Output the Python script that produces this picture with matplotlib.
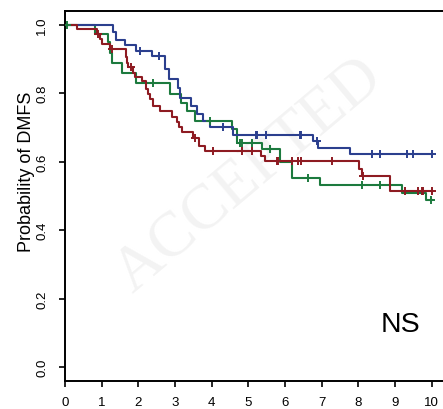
import numpy as np
import matplotlib
matplotlib.use("Agg")
import matplotlib.pyplot as plt

plt.rcParams['font.family'] = ['Liberation Sans', 'DejaVu Sans']

# ---- data ----
blue_times = [0, 1.32, 1.39, 1.64, 1.95, 2.36, 2.73, 2.84, 3.08, 3.14, 3.45, 3.59, 3.77,
              3.95, 4.58, 6.77, 6.90, 7.77, 10.0]
blue_surv = [1.0, 0.98, 0.955, 0.94, 0.923, 0.91, 0.87, 0.84, 0.815, 0.787, 0.763, 0.738, 0.72,
             0.70, 0.678, 0.66, 0.641, 0.621, 0.621]
blue_cens = [2.05, 2.57, 4.31, 5.20, 5.24, 5.47, 6.41, 6.45, 6.87, 8.36, 8.59, 9.32, 9.50, 10.0]

green_times = [0, 0.82, 1.18, 1.24, 1.27, 1.55, 1.95, 2.86, 3.17, 3.33, 3.55, 4.55, 4.68,
               5.36, 5.86, 6.19, 6.95, 9.18, 9.84, 10.0]
green_surv = [1.0, 0.972, 0.948, 0.918, 0.889, 0.86, 0.831, 0.797, 0.772, 0.748, 0.72, 0.694, 0.655,
              0.636, 0.60, 0.553, 0.532, 0.509, 0.487, 0.487]
green_cens = [0.06, 2.41, 3.95, 4.77, 4.82, 5.11, 5.59, 6.63, 8.09, 8.59, 9.98]

red_times = [0, 0.34, 0.86, 0.95, 1.0, 1.23, 1.66, 1.68, 1.73, 1.86, 1.91, 2.09, 2.20, 2.27,
             2.32, 2.40, 2.59, 2.91, 3.05, 3.10, 3.20, 3.50, 3.66, 3.82, 5.35, 5.45,
             8.03, 8.10, 8.86, 10.0]
red_surv = [1.0, 0.987, 0.972, 0.958, 0.943, 0.928, 0.905, 0.889, 0.875, 0.86, 0.846, 0.836, 0.811, 0.797,
            0.782, 0.763, 0.748, 0.73, 0.716, 0.70, 0.687, 0.668, 0.646, 0.631, 0.617, 0.602,
            0.577, 0.558, 0.514, 0.514]
red_cens = [0.91, 1.27, 1.80, 3.55, 4.05, 4.84, 5.09, 5.77, 5.82, 6.18, 6.36, 6.45, 7.27, 8.13,
            9.27, 9.64, 9.73, 9.77, 10.0]

x_ticks = [0, 1, 2, 3, 4, 5, 6, 7, 8, 9, 10]
y_ticks = [0.0, 0.2, 0.4, 0.6, 0.8, 1.0]
y_labels = ["0.0", "0.2", "0.4", "0.6", "0.8", "1.0"]

BLUE = '#2b3f8e'
RED = '#8e1b22'
GREEN = '#1c7a3e'

W, H = 443, 410
fig = plt.figure(figsize=(W / 100, H / 100), dpi=100)
ax = fig.add_axes([65 / W, (H - 381.7) / H, 381.3 / W, (381.7 - 12) / H])

# faint watermark
ax.text(5.0, 0.56, "ACCEPTED", fontsize=46, color='#f3f3f3', rotation=40,
        ha='center', va='center', zorder=0, family=['Liberation Serif', 'DejaVu Serif'])


def step_at(times, surv, t):
    idx = np.searchsorted(times, t, side='right') - 1
    return np.asarray(surv)[idx]


for times, surv, cens, col in [(green_times, green_surv, green_cens, GREEN),
                               (blue_times, blue_surv, blue_cens, BLUE),
                               (red_times, red_surv, red_cens, RED)]:
    ax.step(times, surv, where='post', color=col, lw=1.5, zorder=3)
    cy = step_at(np.array(times), surv, np.array(cens))
    ax.plot(cens, cy, linestyle='none', marker='+', ms=6, mew=1.4, color=col, zorder=4)

ax.set_xlim(0, 10.4)
ax.set_ylim(-0.04, 1.04)
ax.spines['right'].set_visible(False)
for s in ['left', 'bottom', 'top']:
    ax.spines[s].set_linewidth(1.4)
ax.set_xticks(x_ticks)
ax.set_xticklabels([str(v) for v in x_ticks])
ax.set_yticks(y_ticks)
ax.set_yticklabels(y_labels, rotation=90, va='center')
ax.tick_params(axis='both', length=4.2, width=1.2, labelsize=9.5, color='black')
ax.tick_params(axis='x', pad=7)
ax.tick_params(axis='y', pad=8)

fig.text(26.5 / W, 1 - 171.5 / H, "Probability of DMFS", rotation=90, fontsize=13,
         ha='center', va='center')
ax.text(9.16, 0.126, "NS", fontsize=20.5, ha='center', va='center')

fig.savefig("out.png", dpi=100)
